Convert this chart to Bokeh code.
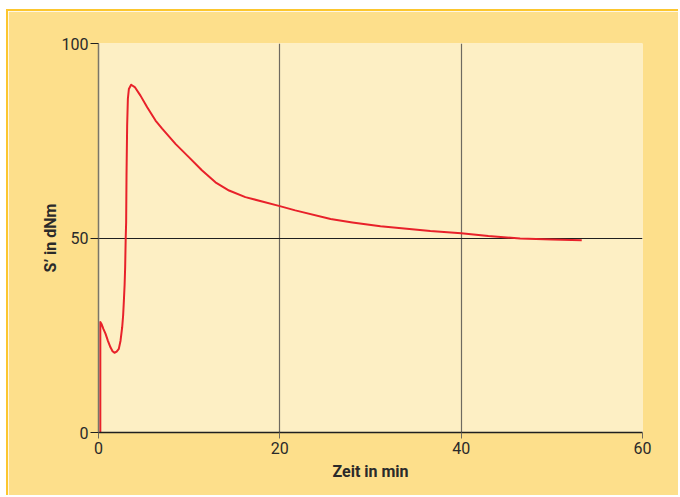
from bokeh.plotting import figure
from bokeh.embed import file_html
from bokeh.resources import INLINE
from bokeh.models import Range1d, FixedTicker

# data (time in min, S' in dNm)
zeit = [0.2, 0.2, 0.33, 0.55, 0.77, 1.05, 1.32, 1.55, 1.76, 2.0, 2.24, 2.43, 2.61, 2.72, 2.8,
        2.88, 2.94, 3.0, 3.05, 3.09, 3.16, 3.24, 3.35, 3.6, 4.0, 4.63, 5.37, 6.29, 7.02,
        8.49, 9.96, 11.4, 12.9, 14.4, 16.2, 18.05, 20.0, 21.7, 25.6, 28.0, 31.1, 34.0,
        36.6, 40.0, 43.0, 46.5, 50.0, 53.3]
drehmoment = [0.0, 28.4, 27.9, 26.6, 25.4, 23.5, 21.9, 20.9, 20.5, 20.8, 21.5, 23.6, 27.0, 30.2, 33.9,
              38.0, 42.5, 50.0, 54.1, 66.1, 78.9, 85.8, 88.3, 89.4, 88.8, 86.6, 83.6, 80.2, 78.1,
              74.2, 70.8, 67.4, 64.3, 62.2, 60.5, 59.4, 58.2, 57.1, 54.9, 54.0, 53.0, 52.4,
              51.8, 51.2, 50.5, 49.9, 49.6, 49.4]
x_ticks = [0, 20, 40, 60]
y_ticks = [0, 50, 100]

OUTER = "#fddf8b"
INNER = "#fdefc4"
FONT = "Roboto"

p = figure(width=672, height=486, output_backend="svg", toolbar_location=None,
           x_range=Range1d(0, 60), y_range=Range1d(0, 100),
           min_border_left=90, min_border_right=38, min_border_top=32, min_border_bottom=65,
           background_fill_color=INNER, border_fill_color=OUTER, outline_line_color=None)
p.margin = (9, 0, 0, 6)
p.styles = {"border-top": "2px solid #fcc62e", "border-left": "2px solid #fcc62e"}

p.line(zeit, drehmoment, line_color="#e8212a", line_width=2, line_join="round")

p.xaxis.ticker = FixedTicker(ticks=x_ticks)
p.yaxis.ticker = FixedTicker(ticks=y_ticks)
p.xgrid.ticker = FixedTicker(ticks=[20, 40, 60])
p.ygrid.ticker = FixedTicker(ticks=[50, 100])
p.xgrid.grid_line_color = "#6e6a60"
p.xgrid.grid_line_width = 1.2
p.ygrid.grid_line_color = "#1f1f1f"
p.ygrid.grid_line_width = 1.2

for ax in (p.xaxis[0], p.yaxis[0]):
    ax.minor_tick_line_color = None
    ax.major_tick_in = 0
    ax.major_label_text_font = FONT
    ax.major_label_text_font_size = "16px"
    ax.major_label_text_color = "#2a2a2a"
    ax.axis_label_text_font = FONT
    ax.axis_label_text_font_style = "bold"
    ax.axis_label_text_font_size = "16px"
    ax.axis_label_text_color = "#2a2a2a"

p.xaxis.axis_line_color = "#1f1f1f"
p.xaxis.axis_line_width = 1.3
p.xaxis.major_tick_out = 6
p.xaxis.major_tick_line_color = "#6e6a60"
p.xaxis.major_label_standoff = 3
p.xaxis.axis_label = "Zeit in min"
p.xaxis.axis_label_standoff = 5

p.yaxis.axis_line_color = "#7a7668"
p.yaxis.axis_line_width = 1.5
p.yaxis.major_tick_out = 8
p.yaxis.major_tick_line_color = "#1f1f1f"
p.yaxis.major_label_standoff = 2
p.yaxis.axis_label = "S’ in dNm"
p.yaxis.axis_label_standoff = -1

open("out.html", "w").write(file_html(p, INLINE))
